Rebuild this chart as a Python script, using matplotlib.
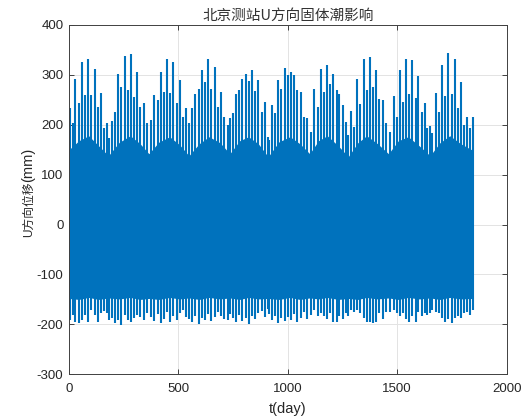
import matplotlib
matplotlib.use("Agg")
import matplotlib.pyplot as plt

# ---- data (days, mm) ----
spike_day = [5, 17, 29, 44, 59, 73, 88, 102, 117, 131, 146, 161, 175, 184, 196, 210, 225, 239, 254, 268, 283, 297, 312, 326, 341, 356,
             375, 390, 405, 419, 434, 448, 463, 477, 492, 506, 519, 535, 548, 563, 577, 592, 606, 621, 637, 650, 665, 679, 694, 710,
             725, 736, 749, 763, 778, 792, 807, 821, 836, 851, 865, 880, 894, 908, 916, 927, 943, 956, 970, 985, 999, 1014, 1028, 1043, 1058, 1072, 1086,
             1106, 1121, 1136, 1150, 1165, 1180, 1194, 1208, 1223, 1236, 1252, 1265, 1276, 1288, 1303, 1317, 1331, 1346, 1360, 1375, 1389, 1404, 1418, 1433, 1448,
             1468, 1483, 1498, 1512, 1526, 1540, 1555, 1568, 1584, 1597, 1613, 1626, 1637, 1648, 1661, 1675, 1689, 1704, 1718, 1733, 1748, 1762, 1777, 1791, 1806, 1818, 1832, 1844]
spike_hi = [233, 204, 292, 243, 325, 259, 332, 259, 312, 235, 264, 193, 203, 173, 208, 226, 302, 276, 337, 269, 341, 256, 305, 236, 243, 203,
            209, 259, 249, 305, 266, 332, 264, 325, 243, 289, 216, 233, 203, 233, 262, 272, 309, 286, 332, 272, 315, 236, 266, 216,
            199, 213, 223, 262, 269, 292, 302, 288, 309, 268, 290, 226, 246, 176, 170, 239, 223, 290, 272, 314, 299, 305, 299, 269, 266, 216, 213,
            186, 272, 236, 312, 266, 319, 281, 301, 270, 262, 239, 206, 180, 228, 196, 292, 241, 332, 269, 335, 276, 309, 252, 250, 203,
            186, 257, 216, 310, 246, 332, 262, 330, 254, 298, 226, 243, 193, 197, 184, 264, 226, 319, 257, 343, 262, 332, 233, 286, 199, 216, 193, 216]
spike_lo = [-191, -181, -195, -198, -191, -181, -195, -171, -181, -195, -178, -174, -178, -191, -188, -198, -191, -201, -181, -191, -195, -188, -181, -185, -192, -178,
            -186, -194, -180, -197, -189, -176, -195, -183, -192, -178, -172, -185, -190, -196, -184, -199, -188, -192, -180, -194, -186, -175, -183, -190,
            -192, -180, -188, -196, -181, -193, -187, -199, -183, -190, -178, -174, -186, -170, -179, -191, -184, -197, -188, -193, -185, -192, -180, -195, -187, -176, -189,
            -181, -171, -184, -178, -184, -190, -178, -195, -195, -184, -190, -178, -184, -171, -175, -171, -178, -188, -195, -195, -198, -195, -178, -190, -175,
            -175, -171, -178, -184, -178, -190, -195, -184, -195, -175, -184, -178, -181, -178, -171, -175, -178, -188, -195, -190, -198, -188, -184, -188, -178, -175, -181, -171]

body_day = [0, 45, 90, 135, 180, 230, 280, 325, 365, 410, 460, 505, 548, 595, 640, 690, 735, 780, 820, 865,
            910, 960, 1010, 1055, 1100, 1140, 1180, 1230, 1276, 1320, 1360, 1410, 1460, 1505, 1550, 1600, 1650, 1695, 1740, 1790, 1848]
body_hi = [150, 168, 178, 158, 138, 165, 178, 162, 142, 165, 176, 160, 138, 162, 176, 164, 142, 168, 176, 162,
           136, 166, 176, 162, 142, 168, 178, 158, 136, 164, 178, 162, 142, 168, 176, 158, 138, 164, 178, 162, 148]
body_lo = [-148, -150, -146, -150, -147, -149, -146, -150, -148, -150, -146, -149, -147, -150, -146, -149, -147, -150, -146, -149,
           -148, -150, -146, -150, -147, -149, -146, -150, -148, -150, -146, -149, -147, -150, -146, -149, -147, -150, -146, -149, -148]

xticks = [0, 500, 1000, 1500, 2000]
yticks = [-300, -200, -100, 0, 100, 200, 300, 400]

title = "北京测站U方向固体潮影响"
xlabel = "t(day)"
ylabel_cjk = "U方向位移"
ylabel_unit = "(mm)"

blue = "#0072BD"
dark = "#262626"

fig = plt.figure(figsize=(5.29, 4.19), dpi=100)
ax = fig.add_axes([0.1304, 0.1067, 0.8274, 0.8337])

ax.fill_between(body_day, body_lo, body_hi, color=blue, lw=0, zorder=2)
ax.vlines(spike_day, 0, spike_hi, colors=blue, lw=1.5, zorder=2)
ax.vlines(spike_day, spike_lo, 0, colors=blue, lw=1.5, zorder=2)

ax.set_xlim(0, 2000)
ax.set_ylim(-300, 400)
ax.set_xticks(xticks)
ax.set_yticks(yticks)
ax.set_xticklabels([str(v) for v in xticks], family="Liberation Sans")
ax.set_yticklabels([str(v) for v in yticks], family="Liberation Sans")
ax.grid(True, color="#e3e3e3", lw=0.7, zorder=0)
ax.set_axisbelow(True)
ax.tick_params(direction="in", length=3.5, width=0.6, top=True, right=True,
               colors=dark, labelcolor=dark, labelsize=9.5)
ax.tick_params(axis="x", pad=6)
ax.tick_params(axis="y", pad=4)
for s in ax.spines.values():
    s.set_color("#404040")
    s.set_linewidth(0.7)

ax.set_title(title, family=["Noto Sans CJK SC", "DejaVu Sans"], fontsize=10.5,
             color="#333333", pad=4)
ax.set_xlabel(xlabel, family="Liberation Sans", fontsize=10.5, color=dark)
ax.xaxis.set_label_coords(0.5, -0.078)

ax.text(-0.0845, 0.551, ylabel_cjk, transform=ax.transAxes, rotation=90,
        rotation_mode="anchor", ha="right", va="baseline", fontsize=8.5,
        family=["Liberation Sans", "Noto Sans CJK SC"], color=dark)
ax.text(-0.0845, 0.551, ylabel_unit, transform=ax.transAxes, rotation=90,
        rotation_mode="anchor", ha="left", va="baseline", fontsize=10.5,
        family="Liberation Sans", color=dark)

fig.savefig("out.png", dpi=100)
